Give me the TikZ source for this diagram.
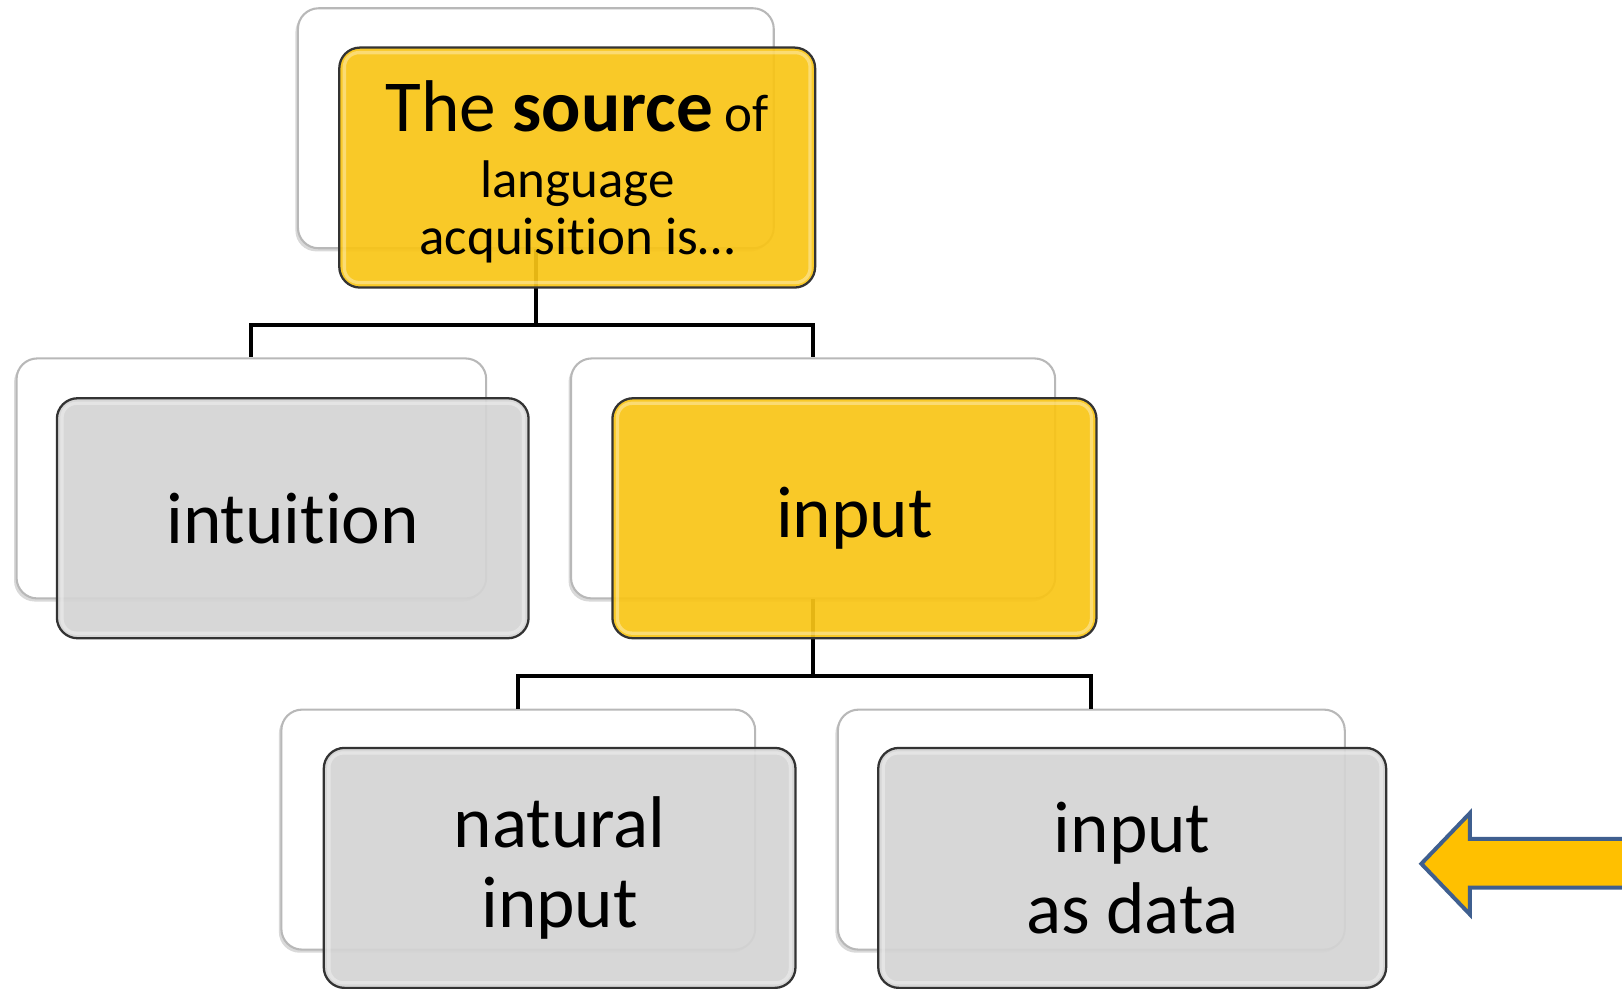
\documentclass[tikz,border=0pt]{standalone}
\usepackage{fontspec}
\setmainfont[Ligatures=NoCommon, RawFeature={-liga;-calt;-dlig}]{Carlito}
\usetikzlibrary{shadows}
\definecolor{gold}{HTML}{F9C516}
\definecolor{boxgray}{HTML}{D4D4D4}
\definecolor{edgecol}{HTML}{333333}
\definecolor{arrowfill}{HTML}{FFC000}
\definecolor{arrowedge}{HTML}{3F5F8F}
\tikzset{
  backbox/.style={rectangle, rounded corners=10pt, fill=white, draw=black!28, line width=1pt,
    minimum height=116pt, inner sep=0pt,
    drop shadow={shadow xshift=-1.2pt, shadow yshift=-1.5pt, opacity=0.3}},
  frontbox/.style={rectangle, rounded corners=10pt, draw=edgecol, line width=1.1pt,
    minimum height=116pt, inner sep=0pt, fill opacity=0.92, text opacity=1, align=center},
  goldbox/.style={frontbox, fill=gold},
  graybox/.style={frontbox, fill=boxgray},
  gloss/.style={white, opacity=0.35, line width=1.6pt, rounded corners=7pt},
  conn/.style={black, line width=1.9pt},
  bigtext/.style={font=\fontsize{35.4}{39}\selectfont},
  smalltext/.style={font=\fontsize{25.6}{27.5}\selectfont},
}
\begin{document}
\begin{tikzpicture}[x=0.5pt, y=-0.5pt]
\useasboundingbox (0,0) rectangle (1568,956);

% back boxes
\node[backbox, minimum width=230pt] (tb)  at (518,124) {};
\node[backbox, minimum width=227pt] (mlb) at (243,462.5) {};
\node[backbox, minimum width=234pt] (mrb) at (786,462.5) {};
\node[backbox, minimum width=229pt] (blb) at (501,802) {};
\node[backbox, minimum width=245pt] (brb) at (1055,802) {};

% connectors
\draw[conn] (tb.south) -- ++(0,73) -| (mlb.north);
\draw[conn] (tb.south) -- ++(0,73) -| (mrb.north);
\draw[conn] (mrb.south) -- ++(0,74) -| (blb.north);
\draw[conn] (mrb.south) -- ++(0,74) -| (brb.north);

% front boxes
\node[goldbox, minimum width=230pt, smalltext, text depth=0pt] (t) at (558,162)
  {{\fontsize{35.4}{30}\selectfont The \textbf{source}} of\\[4pt]
   language\\ acquisition is…};
\node[graybox, minimum width=228pt, bigtext] (ml) at (283,501) {intuition};
\node[goldbox, minimum width=234pt, bigtext] (mr) at (826,501) {input};
\node[graybox, minimum width=228pt, bigtext] (bl) at (541,839) {natural\\input};
\node[graybox, minimum width=245.5pt, bigtext] (br) at (1094.5,839) {input\\as data};

% gloss highlights
\foreach \n in {t,ml,mr,bl,br}{
  \draw[gloss] ([shift={(6,6)}]\n.north west) rectangle ([shift={(-6,-6)}]\n.south east);
}

% pointer arrow
\draw[arrowedge, fill=arrowfill, line width=1.9pt, line join=miter]
  (1374,835) -- (1421,786) -- (1421,811) -- (1600,811) -- (1600,858)
  -- (1421,858) -- (1421,884) -- cycle;
\end{tikzpicture}
\end{document}
